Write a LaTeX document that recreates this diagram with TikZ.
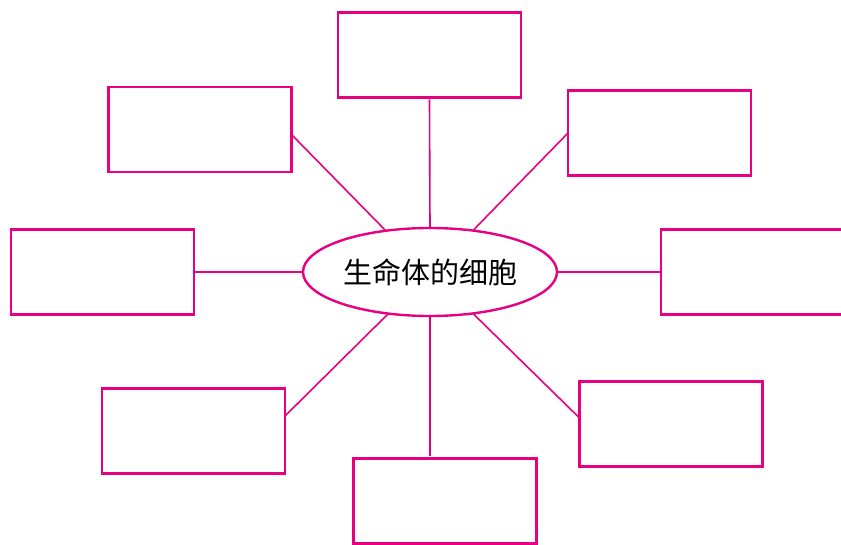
\documentclass[tikz,border=0pt]{standalone}
\usepackage{fontspec}
\newfontfamily\cjk{Noto Sans CJK SC}
\usetikzlibrary{shapes.geometric}
\definecolor{pinkline}{RGB}{232,0,128}
\tikzset{
  box/.style={draw=pinkline, line width=2.4pt, fill=white, minimum width=183pt, minimum height=85pt, inner sep=0pt, outer sep=0pt},
  link/.style={draw=pinkline, line width=1.6pt},
  hub/.style={ellipse, draw=pinkline, line width=2.4pt, minimum width=254pt, minimum height=88pt, inner sep=0pt, outer sep=0pt, font=\cjk\fontsize{29}{29}\selectfont}
}
\begin{document}
\begin{tikzpicture}[x=1pt,y=-1pt]
\useasboundingbox (0,0) rectangle (841,545);
\node[hub] (e) at (430,272) {生命体的细胞};
\node[box] (t) at (429.5,55) {};
\node[box] (tl) at (200,129.5) {};
\node[box] (tr) at (659.5,133) {};
\node[box] (l) at (102.5,272) {};
\node[box, minimum width=190pt] (r) at (756,272) {};
\node[box] (bl) at (193.5,431) {};
\node[box] (b) at (445,501) {};
\node[box] (br) at (671,424) {};
\draw[link] (e.north) -- ([yshift=-2pt]t.south);
\draw[link] (e.south) -- ([yshift=3pt]e.south |- b.north);
\draw[link] (e.west) -- (l.east);
\draw[link] (e.east) -- (r.west);
\draw[link] (e.137) -- ([yshift=-5pt]tl.east);
\draw[link] (e.44) -- (tr.west);
\draw[link] (e.225) -- ([yshift=15pt]bl.east);
\draw[link] (e.316) -- ([yshift=6pt]br.west);
\end{tikzpicture}
\end{document}
